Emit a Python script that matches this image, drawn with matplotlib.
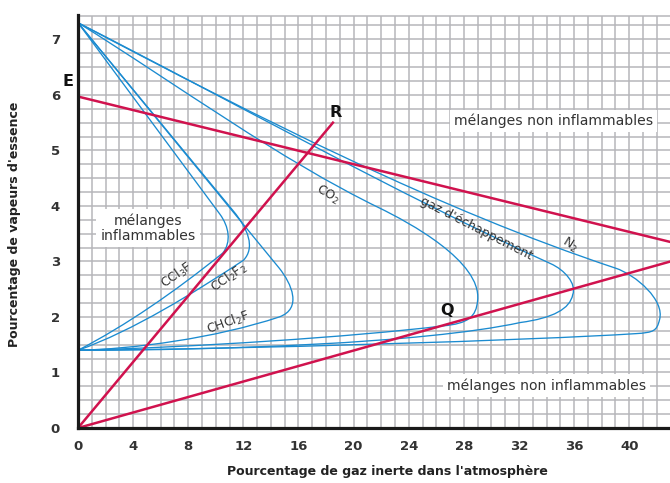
import matplotlib
matplotlib.use("Agg")
import matplotlib.pyplot as plt
from matplotlib.path import Path
from matplotlib.patches import PathPatch
from matplotlib.ticker import MultipleLocator

# axis ticks
X_TICKS = [0, 4, 8, 12, 16, 20, 24, 28, 32, 36, 40]
Y_TICKS = [0, 1, 2, 3, 4, 5, 6, 7]

# flammability envelopes (% inert gas, % fuel vapour)
# each segment: ("M"|"L", pt) / ("C", ctrl1, ctrl2, end)
CCL3F = [("M", (0, 7.3)), ("L", (10.3, 3.85)),
         ("C", (10.95, 3.63), (11.15, 3.35), (10.5, 3.15)),
         ("C", (7.0, 2.45), (3.5, 1.85), (0, 1.4))]
CCL2F2 = [("M", (0, 7.3)), ("L", (11.3, 3.9)),
          ("C", (12.3, 3.6), (12.9, 3.25), (12.0, 3.02)),
          ("C", (8.5, 2.45), (4.0, 1.75), (0, 1.4))]
CHCL2F = [("M", (0, 7.3)), ("L", (14.6, 2.88)),
          ("C", (15.5, 2.6), (16.3, 2.15), (14.6, 2.0)),
          ("C", (10.0, 1.62), (4.0, 1.42), (0, 1.4))]
CO2 = [("M", (0, 7.3)), ("C", (7.3, 6.17), (14.6, 4.84), (21.9, 3.96)),
       ("C", (24.0, 3.705), (29.3, 3.0), (29.0, 2.3)),
       ("C", (28.9, 2.0), (28.3, 1.88), (26.5, 1.84)),
       ("C", (20.0, 1.64), (8.0, 1.45), (0, 1.4))]
GAZ = [("M", (0, 7.3)), ("C", (11.3, 5.87), (22.9, 4.25), (34.3, 2.96)),
       ("C", (35.3, 2.85), (36.2, 2.6), (35.9, 2.4)),
       ("C", (35.7, 2.15), (34.5, 1.98), (32.1, 1.9)),
       ("C", (25.0, 1.52), (10.0, 1.4), (0, 1.4))]
N2 = [("M", (0, 7.3)), ("C", (13.3, 5.56), (26.3, 3.93), (39.0, 2.88)),
      ("C", (40.5, 2.757), (42.6, 2.3), (42.2, 1.95)),
      ("C", (42.0, 1.75), (41.8, 1.72), (40.5, 1.7)),
      ("C", (33.0, 1.58), (12.0, 1.42), (0, 1.4))]
ENVELOPES = [CCL3F, CCL2F2, CHCL2F, CO2, GAZ, N2]

# straight red lines (start, end)
LINE_E = [(0, 5.97), (43, 3.35)]
LINE_R = [(0, 0), (18.5, 5.5)]
LINE_Q = [(0, 0), (43, 3.0)]

BLUE = "#1b8bd0"
RED = "#d0124e"
GRID = "#b6b6ba"
TXT = "#333333"


def make_path(segments):
    verts, codes = [], []
    for seg in segments:
        kind = seg[0]
        if kind == "M":
            verts.append(seg[1]); codes.append(Path.MOVETO)
        elif kind == "L":
            verts.append(seg[1]); codes.append(Path.LINETO)
        elif kind == "C":
            verts.extend(seg[1:]); codes.extend([Path.CURVE4] * 3)
    return Path(verts, codes)


fig = plt.figure(figsize=(6.7, 4.83), dpi=100)
ax = fig.add_axes([78 / 670, 55 / 483, 592 / 670, 412.5 / 483])
ax.set_xlim(0, 42.96)
ax.set_ylim(0, 7.43)

ax.set_xticks(X_TICKS)
ax.set_yticks(Y_TICKS)
ax.xaxis.set_minor_locator(MultipleLocator(1))
ax.yaxis.set_minor_locator(MultipleLocator(0.25))
ax.set_axisbelow(True)
ax.grid(which="both", color=GRID, lw=1.1)
ax.tick_params(which="both", length=0)
ax.tick_params(axis="x", pad=9)
ax.tick_params(axis="y", pad=13)
for lab in ax.get_xticklabels() + ax.get_yticklabels():
    lab.set_fontweight("bold")
    lab.set_fontsize(9.5)
    lab.set_color(TXT)

for side in ["left", "bottom"]:
    ax.spines[side].set_color("#1a1a1a")
    ax.spines[side].set_linewidth(2.3)
    ax.spines[side].set_zorder(5)
ax.spines["top"].set_color(GRID)
ax.spines["top"].set_linewidth(1.1)
ax.spines["right"].set_visible(False)

for env in ENVELOPES:
    ax.add_patch(PathPatch(make_path(env), fc="none", ec=BLUE, lw=0.95, zorder=4))

for (x0, y0), (x1, y1) in [LINE_E, LINE_R, LINE_Q]:
    ax.plot([x0, x1], [y0, y1], color=RED, lw=1.8, zorder=4, clip_on=True)

# curve labels
curve_labels = [
    (r"CCl$_3$F", 7.2, 2.75, 35),
    (r"CCl$_2$F$_2$", 11.0, 2.7, 35),
    (r"CHCl$_2$F", 10.9, 1.9, 20),
    (r"CO$_2$", 18.1, 4.2, -30),
    ("gaz d'échappement", 28.9, 3.6, -27),
    (r"N$_2$", 35.7, 3.3, -32),
]
for txt, x, y, rot in curve_labels:
    ax.text(x, y, txt, rotation=rot, ha="center", va="center",
            fontsize=9, color=TXT, zorder=6, rotation_mode="anchor")

box = dict(fc="white", ec="none", pad=3)
ax.text(34.5, 5.53, "mélanges non inflammables", ha="center", va="center",
        fontsize=10.1, color=TXT, bbox=box, zorder=3)
ax.text(34.0, 0.76, "mélanges non inflammables", ha="center", va="center",
        fontsize=10.1, color=TXT, bbox=box, zorder=3)
ax.text(5.1, 3.6, "mélanges\ninflammables", ha="center", va="center",
        fontsize=10.1, color=TXT, bbox=box, zorder=3, linespacing=1.1)

# point letters
for txt, x, y in [("E", -0.75, 6.25), ("R", 18.7, 5.68), ("Q", 26.8, 2.12)]:
    ax.text(x, y, txt, ha="center", va="center", fontsize=11.5,
            fontweight="bold", color="#111111", zorder=7, clip_on=False)

fig.text(15 / 670, 1 - 224 / 483, "Pourcentage de vapeurs d'essence",
         rotation=90, ha="center", va="center", fontsize=9.0,
         fontweight="bold", color="#222222")
fig.text(387 / 670, 1 - 471 / 483, "Pourcentage de gaz inerte dans l'atmosphère",
         ha="center", va="center", fontsize=9.0, fontweight="bold", color="#222222")

fig.savefig("out.png", dpi=100)
